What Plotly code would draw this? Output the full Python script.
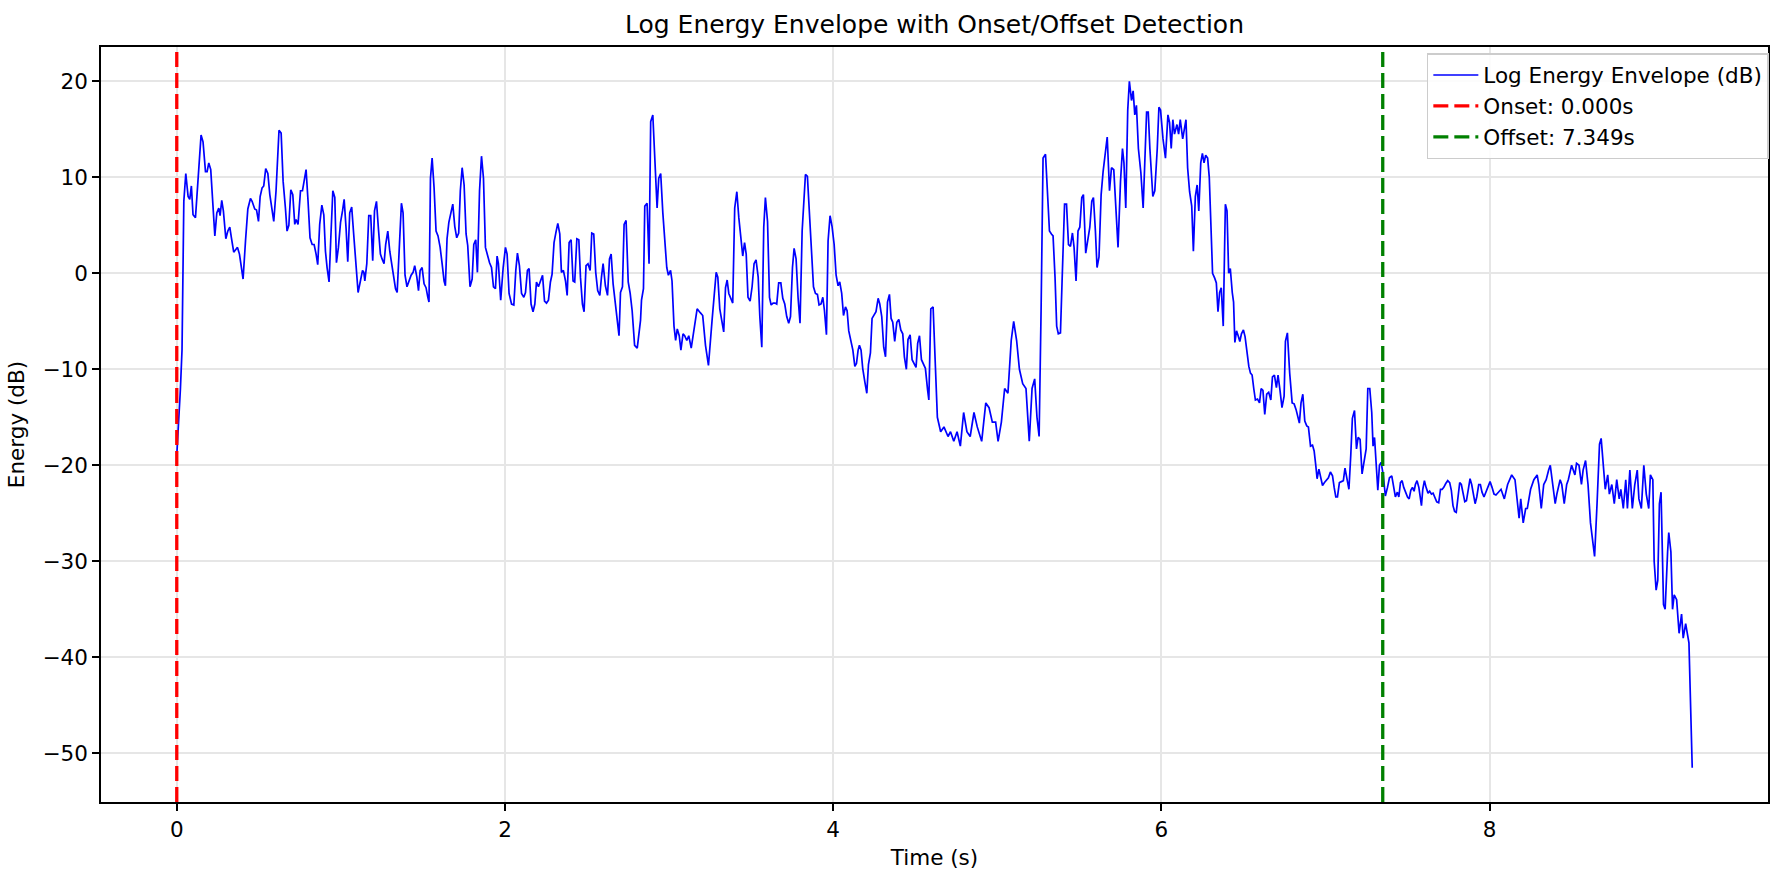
import plotly.graph_objects as go

# Envelope samples (time in s, energy in dB)
time_s = [
    0.000, 0.006, 0.012, 0.022, 0.032, 0.043, 0.055, 0.069, 0.079, 0.089, 0.099, 0.114, 0.134, 0.148, 0.160,
    0.175, 0.185, 0.195, 0.207, 0.219, 0.232, 0.244, 0.256, 0.264, 0.274, 0.284, 0.299, 0.311, 0.323, 0.333,
    0.347, 0.361, 0.370, 0.382, 0.404, 0.419, 0.433, 0.449, 0.459, 0.475, 0.486, 0.498, 0.508, 0.520, 0.530,
    0.542, 0.555,
    0.567, 0.579, 0.591, 0.605, 0.623, 0.636, 0.648, 0.662, 0.672, 0.683, 0.695, 0.707, 0.719, 0.727, 0.739,
    0.754, 0.766, 0.776, 0.788, 0.800, 0.812, 0.825, 0.837, 0.849, 0.859, 0.871, 0.884, 0.896, 0.906, 0.916,
    0.928, 0.938, 0.951, 0.963, 0.973, 0.985, 0.998, 1.010, 1.020, 1.032, 1.042, 1.054, 1.066, 1.078, 1.091,
    1.105, 1.119, 1.132, 1.140, 1.146, 1.158, 1.170, 1.182, 1.194, 1.205, 1.217, 1.229, 1.241,
    1.251, 1.263, 1.273, 1.286, 1.298, 1.310, 1.320, 1.333, 1.343, 1.357, 1.369, 1.379, 1.391, 1.403, 1.416,
    1.428, 1.440, 1.450, 1.463, 1.473, 1.483, 1.495, 1.507, 1.519, 1.530, 1.537, 1.546, 1.556, 1.568, 1.580,
    1.592, 1.605, 1.617, 1.629, 1.637, 1.647, 1.658, 1.670, 1.682, 1.694, 1.706, 1.718, 1.728, 1.739, 1.751,
    1.763, 1.773, 1.787, 1.800, 1.810, 1.822, 1.832, 1.845, 1.857, 1.869, 1.881, 1.893, 1.906, 1.918, 1.930,
    1.942, 1.952,
    1.960, 1.974, 1.989, 2.003, 2.013, 2.025, 2.040, 2.054, 2.066, 2.076, 2.088, 2.101, 2.115, 2.125, 2.137,
    2.147, 2.159, 2.171, 2.182, 2.192, 2.204, 2.216, 2.229, 2.241, 2.253, 2.265, 2.277, 2.287, 2.299, 2.312,
    2.322, 2.334, 2.344, 2.356, 2.369, 2.379, 2.391, 2.403, 2.415, 2.425, 2.438, 2.450, 2.460, 2.472, 2.482,
    2.494, 2.506, 2.519, 2.529, 2.541, 2.553, 2.565, 2.578, 2.588, 2.598, 2.612, 2.625, 2.637, 2.647, 2.659,
    2.673, 2.687, 2.695, 2.704, 2.716, 2.726, 2.738, 2.751, 2.763, 2.775, 2.790, 2.806, 2.820, 2.826, 2.832,
    2.844, 2.852, 2.866, 2.878, 2.888, 2.901, 2.913, 2.927, 2.937, 2.949, 2.962, 2.974, 2.986, 2.996, 3.009,
    3.018, 3.030, 3.040, 3.050, 3.062, 3.072, 3.085, 3.095, 3.108, 3.120, 3.135, 3.150, 3.171, 3.190, 3.205,
    3.222, 3.240, 3.262, 3.287, 3.297, 3.309, 3.322, 3.333,
    3.344, 3.354, 3.364, 3.374, 3.388, 3.400, 3.413, 3.425, 3.437, 3.449, 3.460, 3.470, 3.481, 3.494, 3.506,
    3.518, 3.530, 3.543, 3.553, 3.565, 3.577, 3.587, 3.600, 3.612, 3.622, 3.634, 3.646, 3.656, 3.668, 3.681,
    3.693, 3.705, 3.717, 3.729, 3.740, 3.752, 3.762, 3.774, 3.786, 3.798, 3.811, 3.821, 3.831, 3.843, 3.856,
    3.868, 3.880, 3.892, 3.904, 3.914, 3.926, 3.937, 3.947, 3.959, 3.969, 3.981, 3.993, 4.006, 4.018, 4.030,
    4.040, 4.052, 4.063,
    4.075, 4.085, 4.095, 4.107, 4.120, 4.132, 4.142, 4.152, 4.160, 4.170, 4.180, 4.193, 4.205, 4.215, 4.227,
    4.237, 4.249, 4.261, 4.274, 4.284, 4.296, 4.308, 4.319, 4.331, 4.343, 4.353, 4.363, 4.375, 4.388, 4.400,
    4.412, 4.424, 4.434, 4.446, 4.456, 4.469, 4.481, 4.493, 4.505, 4.515, 4.526, 4.538, 4.550, 4.562, 4.575,
    4.583, 4.595, 4.609, 4.623,
    4.635, 4.655, 4.675, 4.700, 4.715, 4.735, 4.755, 4.775, 4.795, 4.815, 4.835, 4.858, 4.878, 4.905, 4.930,
    4.950, 4.970, 4.990, 5.005, 5.025, 5.045, 5.065, 5.085, 5.100, 5.118, 5.135, 5.155, 5.175, 5.195, 5.212,
    5.228, 5.242, 5.255, 5.267, 5.279, 5.294,
    5.306, 5.318, 5.330, 5.340, 5.352, 5.362, 5.372, 5.385, 5.395, 5.410, 5.422, 5.434, 5.446, 5.458, 5.468,
    5.480, 5.492, 5.503, 5.515, 5.525, 5.539, 5.551, 5.564, 5.576, 5.586, 5.598, 5.608, 5.620, 5.633, 5.645,
    5.660, 5.670, 5.684, 5.696, 5.710, 5.722, 5.736, 5.751, 5.763, 5.772, 5.783, 5.795, 5.805, 5.818, 5.828,
    5.838, 5.848, 5.860, 5.875, 5.889, 5.900, 5.910, 5.920, 5.930, 5.948, 5.960, 5.975, 5.985, 5.995, 6.010,
    6.025, 6.040, 6.050, 6.060, 6.070, 6.080, 6.095, 6.105, 6.115, 6.130, 6.150, 6.160, 6.172, 6.185, 6.195,
    6.207, 6.218, 6.228, 6.240, 6.250, 6.260, 6.270, 6.282, 6.292, 6.302, 6.312, 6.325, 6.335, 6.345, 6.355,
    6.365, 6.377, 6.390, 6.400, 6.410, 6.420, 6.432, 6.440, 6.448, 6.458, 6.468, 6.478, 6.488, 6.500,
    6.510, 6.522, 6.533, 6.543, 6.553, 6.563, 6.573, 6.586, 6.598, 6.608, 6.619, 6.630, 6.642, 6.654, 6.667,
    6.677, 6.689, 6.701, 6.711, 6.723, 6.735, 6.748, 6.756, 6.768, 6.782, 6.797, 6.809, 6.821, 6.831, 6.841,
    6.851, 6.862, 6.874, 6.886, 6.896, 6.909, 6.921, 6.931, 6.941, 6.949, 6.960, 6.970, 6.982, 6.994, 7.006,
    7.018, 7.030, 7.043, 7.053, 7.063, 7.073, 7.085, 7.097, 7.109, 7.119, 7.131, 7.143, 7.154, 7.164, 7.177,
    7.189, 7.199, 7.211, 7.223, 7.236, 7.248, 7.258, 7.270, 7.282, 7.290, 7.299, 7.311, 7.319, 7.329, 7.339,
    7.352, 7.365, 7.378, 7.390, 7.404, 7.414, 7.426, 7.438,
    7.447, 7.457, 7.467, 7.477, 7.487, 7.500, 7.510, 7.520, 7.530, 7.540, 7.548, 7.558, 7.569, 7.575, 7.585,
    7.593, 7.603, 7.613, 7.625, 7.635, 7.646, 7.656, 7.666, 7.678, 7.690, 7.701, 7.711, 7.721, 7.733, 7.745,
    7.757, 7.767, 7.777, 7.787, 7.797, 7.808, 7.818, 7.828, 7.838, 7.849, 7.859, 7.869, 7.881, 7.891, 7.902,
    7.912, 7.922, 7.934, 7.944, 7.954, 7.966, 7.978, 7.990, 8.003, 8.015, 8.027, 8.039, 8.051,
    8.070, 8.090, 8.110, 8.135, 8.155, 8.180, 8.190, 8.205, 8.220, 8.230, 8.250, 8.270, 8.290, 8.300, 8.315,
    8.330, 8.345, 8.360, 8.370, 8.385, 8.400, 8.410, 8.430, 8.440, 8.455, 8.470, 8.480, 8.500, 8.520, 8.530,
    8.545, 8.560, 8.570, 8.585, 8.600, 8.615, 8.630, 8.640, 8.655, 8.670, 8.680, 8.690, 8.705, 8.720, 8.730,
    8.745, 8.760, 8.775, 8.790, 8.800, 8.815, 8.830, 8.840, 8.855, 8.870, 8.885, 8.900, 8.910, 8.925, 8.940,
    8.955, 8.970, 8.980, 8.995, 9.003, 9.015, 9.025, 9.035, 9.045, 9.060, 9.070, 9.085, 9.092, 9.105, 9.115,
    9.125, 9.140, 9.155, 9.170, 9.180, 9.195, 9.205, 9.215, 9.235,
]

energy_db = [
    -19.0, -16.5, -15.2, -12.1, -8.0, 7.5, 10.4, 8.0, 7.7, 9.1, 6.1, 5.8, 11.3, 14.4, 13.7,
    10.6, 10.6, 11.5, 10.8, 7.9, 3.9, 6.3, 6.8, 6.0, 7.6, 6.5, 3.6, 4.4, 4.8, 3.7,
    2.2, 2.5, 2.7, 2.0, -0.6, 3.4, 6.7, 7.8, 7.5, 6.7, 6.6, 5.4, 8.0, 8.9, 9.1,
    10.9, 10.4,
    8.2, 6.8, 5.4, 8.6, 14.9, 14.6, 9.6, 6.8, 4.4, 5.0, 8.7, 8.2, 5.1, 5.6, 5.1,
    8.6, 8.6, 9.6, 10.8, 7.5, 3.7, 3.0, 3.0, 2.0, 0.9, 5.1, 7.1, 6.1, 2.3, 0.6,
    -0.9, 3.4, 8.6, 7.9, 1.1, 2.7, 5.3, 6.5, 7.7, 4.6, 1.2, 6.3, 6.9, 4.1, 1.0,
    -2.0, -0.8, 0.3, 0.1, -0.8, 1.0, 6.0, 6.0, 1.3, 6.5, 7.5, 4.6, 2.0,
    1.5, 1.0, 3.0, 4.4, 2.3, 1.0, 0.3, -1.6, -2.0, 3.4, 7.3, 6.3, -0.2, -1.4, -0.8,
    -0.2, 0.1, 0.8, -0.4, -1.8, 0.3, 0.6, -1.1, -1.5, -2.5, -3.0, 9.9, 12.0, 8.9, 4.4,
    3.9, 2.7, 1.0, -0.8, -1.3, 3.6, 5.3, 6.3, 7.2, 4.9, 3.7, 4.2, 8.6, 11.0, 9.2,
    4.1, 2.9, -1.4, -0.6, 3.0, 3.5, 0.1, 8.6, 12.2, 9.9, 2.7, 1.8, 1.1, 0.6, -1.4,
    -1.6, 1.8,
    1.0, -2.8, 0.6, 2.7, 2.0, -2.1, -3.2, -3.3, 0.3, 2.1, 0.8, -2.1, -2.5, -2.0, 0.3,
    0.5, -3.2, -4.0, -3.2, -0.9, -1.4, -0.8, -0.2, -2.9, -3.1, -2.8, -0.9, -0.1, 3.2, 4.4,
    5.2, 4.1, 0.1, 0.3, -0.8, -2.3, 3.2, 3.5, -0.8, -0.9, 3.6, 3.5, -0.4, -3.2, -4.0,
    0.8, 1.0, 0.3, 4.2, 4.1, 0.1, -1.8, -2.3, -0.4, 1.0, -1.3, -2.3, 1.5, 2.0, -1.1,
    -3.2, -5.2, -6.5, -2.0, -1.4, 5.1, 5.5, -0.9, -2.1, -3.9, -7.5, -7.8, -6.0, -4.9, -2.8,
    -1.6, 7.0, 7.3, 1.0, 15.8, 16.5, 12.0, 6.8, 9.9, 10.4, 6.3, 3.4, 0.6, -0.2, 0.3,
    -0.8, -5.5, -7.0, -5.8, -6.5, -8.0, -6.3, -6.5, -7.0, -6.5, -7.8, -6.0, -3.7, -4.1, -4.4,
    -7.5, -9.6, -4.9, 0.1, -0.4, -3.7, -5.0, -6.1,
    -1.5, -0.7, -2.1, -2.6, -3.1, 6.8, 8.5, 5.8, 3.4, 1.8, 3.2, 2.0, -2.5, -2.9, -1.4,
    1.0, 1.4, -0.4, -4.5, -7.7, 4.8, 7.9, 5.4, -2.5, -3.3, -3.1, -3.1, -3.2, -1.0, -1.0,
    -2.6, -3.2, -4.5, -5.2, -4.5, 0.6, 2.6, 1.5, -2.5, -5.2, 4.4, 7.9, 10.3, 10.1, 6.1,
    1.0, -1.4, -2.1, -2.2, -3.3, -3.2, -2.5, -3.9, -6.4, 3.4, 6.0, 4.9, 3.0, -0.2, -1.3,
    -0.9, -2.1, -4.4,
    -3.5, -3.9, -6.0, -7.0, -8.0, -9.7, -9.4, -8.0, -7.5, -8.0, -9.9, -11.3, -12.5, -9.5, -8.3,
    -4.7, -4.4, -4.0, -2.6, -3.2, -4.5, -7.7, -8.7, -3.0, -2.2, -4.7, -5.1, -7.1, -5.1, -4.8,
    -5.9, -6.3, -8.7, -10.0, -6.9, -6.4, -9.0, -9.5, -9.8, -7.3, -6.5, -9.0, -9.5, -9.9, -12.1,
    -13.2, -3.7, -3.5, -9.7,
    -15.0, -16.5, -16.0, -17.0, -16.5, -17.5, -16.5, -18.0, -14.5, -16.5, -17.0, -14.5, -16.0, -17.5, -13.5,
    -14.0, -15.5, -15.5, -17.5, -15.5, -12.0, -12.5, -7.0, -5.0, -7.0, -10.0, -11.5, -12.0, -17.5, -12.0,
    -11.0, -15.0, -17.0, -3.9, 12.0, 12.4,
    7.5, 4.4, 4.1, 3.9, -0.4, -5.5, -6.3, -6.2, -0.8, 7.2, 7.2, 3.0, 2.8, 4.2, 2.7,
    -0.8, 4.4, 4.8, 7.9, 8.2, 2.1, 3.2, 4.8, 7.5, 7.9, 4.4, 0.6, 1.7, 8.2, 10.6,
    12.5, 14.2, 8.6, 11.0, 10.8, 7.5, 2.7, 9.6, 13.0, 11.5, 6.8, 17.0, 20.0, 18.0, 19.0,
    16.5, 17.5, 13.0, 10.5, 6.8, 12.0, 16.8, 16.8, 13.0, 8.0, 8.6, 13.0, 17.3, 17.0, 14.0,
    12.0, 16.5, 15.7, 13.0, 16.0, 14.5, 15.5, 14.5, 16.0, 14.0, 16.0, 11.0, 8.5, 7.0, 2.3,
    8.0, 9.2, 6.5, 11.5, 12.5, 11.5, 12.3, 12.0, 10.0, 5.0, 0.0, -0.5, -1.0, -4.0, -2.0,
    -1.5, -5.5, 7.2, 6.5, 0.0, 0.5, -2.0, -3.0, -7.2, -6.0, -6.5, -7.1, -6.3, -5.9,
    -6.6, -8.3, -9.7, -10.4, -10.6, -12.0, -13.2, -13.1, -13.5, -12.0, -12.2, -14.7, -12.6, -12.4, -13.2,
    -10.8, -10.6, -11.9, -10.6, -12.2, -14.0, -12.8, -7.1, -6.2, -10.4, -13.5, -13.6, -14.2, -15.1, -15.6,
    -13.5, -12.6, -15.4, -15.9, -16.0, -18.0, -17.9, -18.5, -20.0, -21.4, -20.4, -21.1, -22.1, -21.8, -21.5,
    -21.3, -20.7, -21.1, -22.3, -23.3, -23.3, -21.8, -21.7, -21.6, -20.3, -21.4, -22.5, -19.0, -15.1, -14.3,
    -18.3, -17.1, -17.3, -20.9, -19.7, -18.3, -12.0, -12.0, -14.5, -18.0, -17.1, -19.9, -22.6, -20.0, -19.7,
    -21.0, -23.2, -22.3, -21.3, -21.1, -22.1, -23.3, -22.8,
    -23.3, -21.8, -21.6, -22.3, -22.7, -23.3, -23.5, -22.6, -22.3, -22.7, -22.0, -21.6, -22.3, -22.9, -24.2,
    -22.5, -21.6, -22.3, -22.9, -22.7, -23.0, -22.9, -23.3, -23.8, -23.9, -22.5, -22.5, -22.3, -21.9, -21.6,
    -21.8, -22.6, -24.2, -24.8, -24.9, -23.0, -21.8, -22.0, -23.0, -23.8, -23.7, -22.6, -21.4, -22.0, -23.3,
    -24.0, -23.3, -22.0, -22.0, -22.8, -23.3, -22.8, -22.1, -21.7, -22.3, -23.0, -23.1, -22.9,
    -22.5, -23.5, -22.0, -21.0, -21.5, -25.5, -23.5, -26.0, -24.5, -24.5, -22.5, -21.5, -21.0, -22.0, -24.5,
    -22.0, -21.5, -20.5, -20.0, -22.0, -24.0, -23.0, -21.5, -22.0, -24.0, -22.0, -21.5, -20.0, -21.0, -19.8,
    -20.0, -22.0, -20.5, -19.5, -22.0, -26.0, -28.0, -29.5, -24.0, -17.8, -17.2, -19.5, -22.5, -21.0, -23.0,
    -22.0, -24.0, -21.5, -23.5, -22.5, -24.5, -21.5, -24.5, -20.5, -24.5, -22.0, -20.5, -23.5, -24.5, -20.0,
    -23.0, -24.5, -21.0, -21.5, -30.0, -33.0, -32.0, -24.0, -22.8, -34.5, -35.0, -29.0, -27.0, -29.0, -35.0,
    -33.5, -34.0, -37.5, -35.5, -38.0, -36.5, -37.5, -38.5, -51.5,
]

onset_s = 0.000
offset_s = 7.349

x_ticks = [0, 2, 4, 6, 8]
y_ticks = [-50, -40, -30, -20, -10, 0, 10, 20]

# axis limits as matplotlib would give (5% margins)
t_min, t_max = min(time_s), max(time_s)
e_min, e_max = min(energy_db), max(energy_db)
x_rng = [t_min - 0.05 * (t_max - t_min), t_max + 0.05 * (t_max - t_min)]
y_rng = [e_min - 0.05 * (e_max - e_min), e_max + 0.05 * (e_max - e_min)]

FONT = "DejaVu Sans"
FS = 21.5

fig = go.Figure()
fig.add_trace(go.Scatter(
    x=time_s, y=energy_db, mode="lines",
    line=dict(color="#0000ff", width=1.7),
    name="Log Energy Envelope (dB)",
))
fig.add_trace(go.Scatter(
    x=[onset_s, onset_s], y=y_rng, mode="lines",
    line=dict(color="#ff0000", width=3.3, dash="15px,6px"),
    name=f"Onset: {onset_s:.3f}s",
))
fig.add_trace(go.Scatter(
    x=[offset_s, offset_s], y=y_rng, mode="lines",
    line=dict(color="#008000", width=3.3, dash="15px,6px"),
    name=f"Offset: {offset_s:.3f}s",
))

axis_common = dict(
    showgrid=True, gridcolor="#e6e6e6", gridwidth=1.5,
    showline=True, linecolor="black", linewidth=1.7, mirror=True,
    ticks="outside", ticklen=7, tickwidth=1.7, tickcolor="black",
    tickfont=dict(family=FONT, size=FS, color="black"),
    zeroline=False,
)

fig.update_layout(
    width=1784, height=881,
    margin=dict(l=101, r=16, t=47, b=79),
    paper_bgcolor="white", plot_bgcolor="white",
    font=dict(family=FONT, size=FS, color="black"),
    title=dict(
        text="Log Energy Envelope with Onset/Offset Detection",
        x=0.5, xref="paper", y=1 - 24 / 881, yref="container",
        xanchor="center", yanchor="middle",
        font=dict(family=FONT, size=25, color="black"),
    ),
    xaxis=dict(
        range=x_rng, tickvals=x_ticks,
        title=dict(text="Time (s)", font=dict(family=FONT, size=FS), standoff=9),
        **axis_common,
    ),
    yaxis=dict(
        range=y_rng, tickvals=y_ticks,
        title=dict(text="Energy (dB)", font=dict(family=FONT, size=FS), standoff=12),
        **axis_common,
    ),
    legend=dict(
        x=1.0005, y=0.992, xanchor="right", yanchor="top",
        bgcolor="rgba(255,255,255,0.85)", bordercolor="#cccccc", borderwidth=1.5,
        font=dict(family=FONT, size=FS, color="black"),
        itemwidth=45,
    ),
    showlegend=True,
)

fig.write_html(
    "out.html",
    config={"displayModeBar": False},
    post_script="document.body.style.margin='0';document.body.style.overflow='hidden';",
)
